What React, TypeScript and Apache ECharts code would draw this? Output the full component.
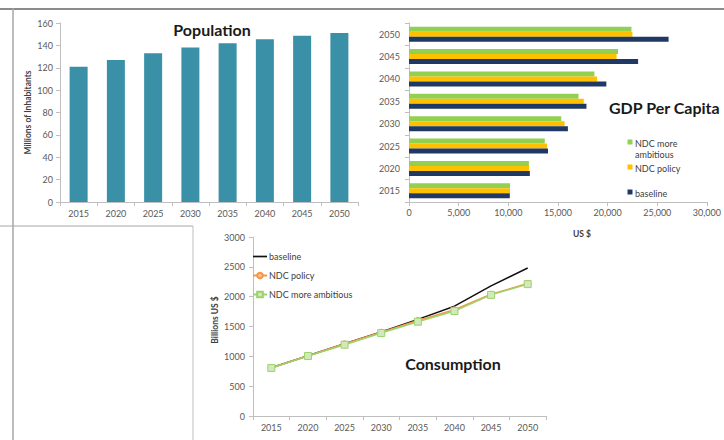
import { useEffect, useRef } from 'react';
import * as echarts from 'echarts';

const years = ['2015', '2020', '2025', '2030', '2035', '2040', '2045', '2050'];
const populationMillions = [121, 127, 133, 138, 142, 145.5, 148.5, 151];

const gdpBaseline = [10150, 12170, 14000, 16000, 17870, 19870, 23070, 26140];
const gdpPolicy = [10170, 12100, 13900, 15670, 17600, 18940, 20900, 22500];
const gdpAmbitious = [10170, 12070, 13670, 15330, 17070, 18670, 21050, 22400];

const consBaseline = [810, 1010, 1210, 1410, 1620, 1840, 2180, 2480];
const consPolicy = [810, 1010, 1210, 1405, 1600, 1780, 2040, 2220];
const consAmbitious = [805, 1005, 1195, 1390, 1580, 1760, 2030, 2210];

const FONT = 'Lato, "Open Sans", sans-serif';
const TICK = '#595959';
const AXIS = '#bfbfbf';
const TEAL = '#3a91a7';
const GREEN = '#92d050';
const YELLOW = '#ffc000';
const NAVY = '#1f3864';
const ORANGE = '#f79646';
const LGREEN = '#9bd36b';

const lbl = (extra: any = {}) => ({ color: TICK, fontSize: 9, fontFamily: FONT, ...extra });
const axLine = { show: true, lineStyle: { color: AXIS, width: 1 } };
const axTick = { show: true, length: 4, lineStyle: { color: AXIS } };

export default function App() {
  const ref = useRef<HTMLDivElement>(null);
  useEffect(() => {
    document.body.style.margin = '0';
    const chart = echarts.init(ref.current!, undefined, { renderer: 'svg' });
    const text = (t: string, x: number, y: number, size: number, extra: any = {}) => ({
      type: 'text',
      x,
      y,
      rotation: extra.rotation || 0,
      style: {
        text: t,
        fontSize: size,
        fontFamily: FONT,
        fontWeight: extra.weight || 'normal',
        fill: extra.fill || '#404040',
        align: extra.align || 'left',
        verticalAlign: 'middle',
      },
    });
    const line = (x1: number, y1: number, x2: number, y2: number, stroke: string, w: number) => ({
      type: 'line',
      shape: { x1, y1, x2, y2 },
      style: { stroke, lineWidth: w },
    });
    const sq = (x: number, y: number, fill: string) => ({
      type: 'rect',
      shape: { x: x - 2.5, y: y - 2.5, width: 5, height: 5 },
      style: { fill },
    });
    chart.setOption({
      animation: false,
      backgroundColor: '#ffffff',
      grid: [
        { left: 60, top: 23, width: 298, height: 179 },
        { left: 409, top: 23, width: 300, height: 179 },
        { left: 253, top: 237, width: 293, height: 179 },
      ],
      xAxis: [
        {
          gridIndex: 0, type: 'category', data: years, boundaryGap: true,
          axisLine: axLine, axisTick: axTick, axisLabel: lbl({ margin: 7 }),
        },
        {
          gridIndex: 1, type: 'value', min: 0, max: 30000, interval: 5000,
          axisLine: axLine, axisTick: axTick, splitLine: { show: false },
          axisLabel: lbl({ margin: 6, formatter: (v: number) => v.toLocaleString('en-US') }),
        },
        {
          gridIndex: 2, type: 'category', data: years, boundaryGap: true,
          axisLine: axLine, axisTick: axTick, axisLabel: lbl({ margin: 7 }),
        },
      ],
      yAxis: [
        {
          gridIndex: 0, type: 'value', min: 0, max: 160, interval: 20,
          axisLine: axLine, axisTick: axTick, splitLine: { show: false },
          axisLabel: lbl({ margin: 7 }),
          name: 'Millions of Inhabitants', nameLocation: 'middle', nameGap: 28,
          nameTextStyle: { fontSize: 8.5, fontWeight: 'bold', color: '#404040', fontFamily: FONT },
        },
        {
          gridIndex: 1, type: 'category', data: years, boundaryGap: true,
          axisLine: axLine, axisTick: axTick, axisLabel: lbl({ margin: 9 }),
        },
        {
          gridIndex: 2, type: 'value', min: 0, max: 3000, interval: 500,
          axisLine: axLine, axisTick: axTick, splitLine: { show: false },
          axisLabel: lbl({ margin: 8, formatter: (v: number) => String(v) }),
        },
      ],
      legend: {
        left: 252, top: 252, orient: 'vertical', itemGap: 10, itemWidth: 14, itemHeight: 7,
        padding: 0,
        data: [
          { name: 'baseline', icon: 'path://M0,0H100V12H0Z' },
          'NDC policy',
          'NDC more ambitious',
        ],
        textStyle: { fontSize: 9, fontFamily: FONT, color: '#404040', padding: [0, 0, 0, -3] },
      },
      graphic: [
        line(0, 9, 724, 9, '#8c8c8c', 2),
        line(13, 8, 13, 440, '#a6a6a6', 1.5),
        line(0, 226, 193, 226, '#a6a6a6', 1),
        line(193, 226, 193, 440, '#bfbfbf', 1),
        text('Population', 212, 29, 16, { weight: 'bold', align: 'center', fill: '#1a1a1a' }),
        text('GDP Per Capita', 609, 107, 16, { weight: 'bold', fill: '#1a1a1a' }),
        text('Consumption', 453, 363, 16, { weight: 'bold', align: 'center', fill: '#1a1a1a' }),
        text('US $', 582, 234, 8.5, { weight: 'bold', align: 'center' }),
        text('Billions US $', 215, 320, 8.5, { weight: 'bold', align: 'center', rotation: Math.PI / 2 }),
        sq(630, 142, GREEN),
        text('NDC more', 635, 143, 9),
        text('ambitious', 635, 154, 9),
        sq(630, 167, YELLOW),
        text('NDC policy', 635, 168, 9),
        sq(630, 192, NAVY),
        text('baseline', 635, 193, 9),
      ],
      series: [
        {
          name: 'Population', type: 'bar', xAxisIndex: 0, yAxisIndex: 0,
          data: populationMillions, barWidth: 18, itemStyle: { color: TEAL },
        },
        {
          name: 'GDP NDC more ambitious', type: 'bar', xAxisIndex: 1, yAxisIndex: 1,
          data: gdpAmbitious, barWidth: 5, barGap: '0%', itemStyle: { color: GREEN },
        },
        {
          name: 'GDP NDC policy', type: 'bar', xAxisIndex: 1, yAxisIndex: 1,
          data: gdpPolicy, barWidth: 5, barGap: '0%', itemStyle: { color: YELLOW },
        },
        {
          name: 'GDP baseline', type: 'bar', xAxisIndex: 1, yAxisIndex: 1,
          data: gdpBaseline, barWidth: 5, barGap: '0%', itemStyle: { color: NAVY },
        },
        {
          name: 'baseline', type: 'line', xAxisIndex: 2, yAxisIndex: 2,
          data: consBaseline, symbol: 'none', lineStyle: { color: '#111111', width: 1.5 },
          itemStyle: { color: '#111111' },
        },
        {
          name: 'NDC policy', type: 'line', xAxisIndex: 2, yAxisIndex: 2,
          data: consPolicy, symbol: 'circle', symbolSize: 6,
          lineStyle: { color: ORANGE, width: 1.5 },
          itemStyle: { color: '#fbc08f', borderColor: ORANGE, borderWidth: 1 },
        },
        {
          name: 'NDC more ambitious', type: 'line', xAxisIndex: 2, yAxisIndex: 2,
          data: consAmbitious, symbol: 'rect', symbolSize: 7,
          lineStyle: { color: LGREEN, width: 1.5 },
          itemStyle: { color: '#d3e9bd', borderColor: LGREEN, borderWidth: 1 },
        },
      ],
    });
    return () => chart.dispose();
  }, []);
  return <div ref={ref} style={{ width: 724, height: 440 }} />;
}
